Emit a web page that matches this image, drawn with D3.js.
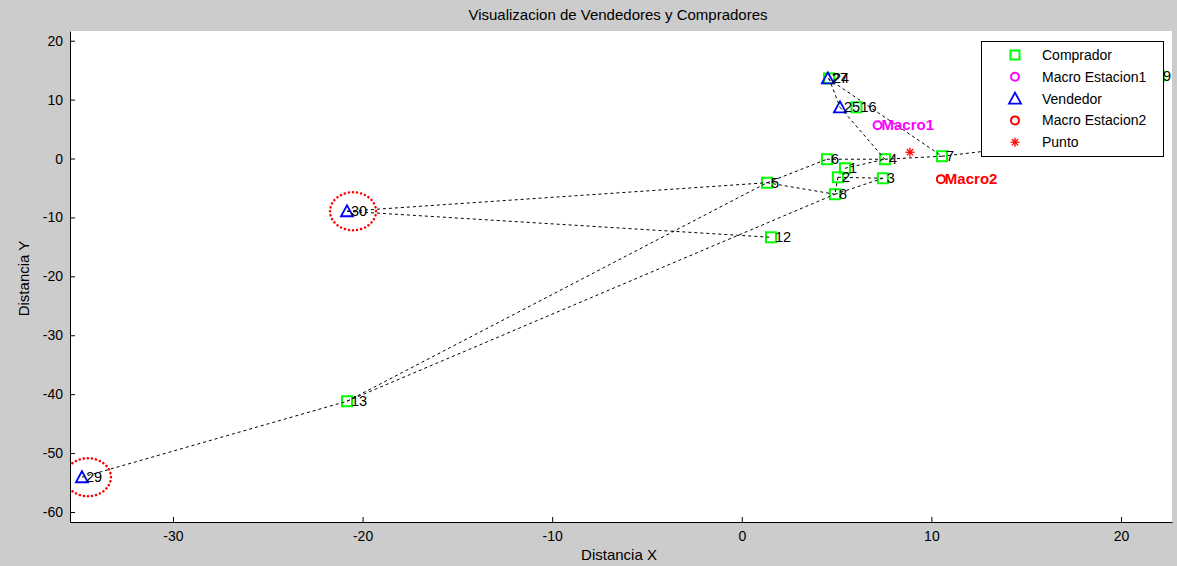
<!DOCTYPE html>
<html><head><meta charset="utf-8">
<script src="https://cdn.jsdelivr.net/npm/d3@7"></script>
<style>
html,body{margin:0;padding:0;background:#cccccc;}
svg{display:block;font-family:Arial,"Liberation Sans",sans-serif;}
</style></head>
<body>
<script>
// ---- data ----
const compradorIds = ["1","2","3","4","5","6","7","8","12","13","16","24","9"];
const compradorX   = [5.44,5.07,7.44,7.55,1.33,4.49,10.56,4.91,1.54,-20.82,6.05,4.60,22.0];
const compradorY   = [-1.65,-3.18,-3.35,-0.12,-4.11,-0.12,0.39,-6.06,-13.37,-41.2,8.7,13.6,14.0];
const vendedorIds  = ["25","27","29","30","10"];
const vendedorX    = [5.18,4.54,-34.8,-20.82,20.4];
const vendedorY    = [8.7,13.6,-54.1,-8.95,4.1];
const macro1 = {x:7.16, y:5.66, label:"Macro1"};
const macro2 = {x:10.5, y:-3.5, label:"Macro2"};
const punto  = {x:8.87, y:1.07};
const links = [["V29","C13"],["C13","C5"],["C13","C8"],["V30","C5"],["V30","C12"],
  ["C5","C6"],["C5","C8"],["C6","C4"],["C1","C4"],["C2","C3"],["C8","C3"],["C2","C8"],
  ["C4","C7"],["V25","C4"],["V27","C7"],["C24","V25"],["C7","V10"]];
const highlighted = ["V30","V29"];
const xTicks = [-30,-20,-10,0,10,20];
const yTicks = [-60,-50,-40,-30,-20,-10,0,10,20];
const legendItems = ["Comprador","Macro Estacion1","Vendedor","Macro Estacion2","Punto"];
const title = "Visualizacion de Vendedores y Compradores";

// ---- layout ----
const W=1177,H=566;
const L=70,R=1172,T=31,B=522;
const x=d3.scaleLinear().domain([-35.43,22.69]).range([L,R]);
const y=d3.scaleLinear().domain([-61.7,21.65]).range([B,T]);

const svg=d3.select("body").append("svg").attr("width",W).attr("height",H);
svg.append("rect").attr("width",W).attr("height",H).attr("fill","#cccccc");
svg.append("rect").attr("x",L).attr("y",T).attr("width",R-L).attr("height",B-T).attr("fill","#fff");

const compradores=compradorIds.map((id,i)=>({key:"C"+id,id,x:compradorX[i],y:compradorY[i]}));
const vendedores=vendedorIds.map((id,i)=>({key:"V"+id,id,x:vendedorX[i],y:vendedorY[i]}));
const byKey={};compradores.concat(vendedores).forEach(d=>byKey[d.key]=d);

const plot=svg.append("g");
plot.append("clipPath").attr("id","clip").append("rect").attr("x",L).attr("y",T).attr("width",R-L).attr("height",B-T);
const g=plot.append("g").attr("clip-path","url(#clip)");

// markers
g.selectAll(".sq").data(compradores).join("rect")
 .attr("x",d=>x(d.x)-5).attr("y",d=>y(d.y)-5).attr("width",10).attr("height",10)
 .attr("fill","none").attr("stroke","#00ff00").attr("stroke-width",2);
g.selectAll(".tri").data(vendedores).join("path")
 .attr("d",d=>{const cx=x(d.x),cy=y(d.y);return `M${cx-6},${cy+5}L${cx},${cy-6}L${cx+6},${cy+5}Z`;})
 .attr("fill","none").attr("stroke","#0000ff").attr("stroke-width",1.8);
[[macro1,"#ff00ff"],[macro2,"#ff0000"]].forEach(([m,c])=>{
  g.append("circle").attr("cx",x(m.x)).attr("cy",y(m.y)).attr("r",4).attr("fill","none").attr("stroke",c).attr("stroke-width",2);
});
function asterisk(sel,cx,cy,s,c){
  const a=sel.append("g").attr("stroke",c).attr("stroke-width",1.3);
  a.append("line").attr("x1",cx-s).attr("x2",cx+s).attr("y1",cy).attr("y2",cy);
  a.append("line").attr("x1",cx).attr("x2",cx).attr("y1",cy-s).attr("y2",cy+s);
  const k=s*0.7;
  a.append("line").attr("x1",cx-k).attr("x2",cx+k).attr("y1",cy-k).attr("y2",cy+k);
  a.append("line").attr("x1",cx-k).attr("x2",cx+k).attr("y1",cy+k).attr("y2",cy-k);
}
asterisk(g,x(punto.x),y(punto.y),4.5,"#ff0000");

// links
g.selectAll(".lk").data(links).join("line")
 .attr("x1",d=>x(byKey[d[0]].x)).attr("y1",d=>y(byKey[d[0]].y))
 .attr("x2",d=>x(byKey[d[1]].x)).attr("y2",d=>y(byKey[d[1]].y))
 .attr("stroke","#000").attr("stroke-width",1).attr("stroke-dasharray","3,3");

// labels
g.selectAll(".lb").data(compradores.concat(vendedores)).join("text")
 .attr("x",d=>x(d.x)+4).attr("y",d=>y(d.y)+5).attr("font-size",14.5).attr("fill","#000").text(d=>d.id);
[[macro1,"#ff00ff"],[macro2,"#ff0000"]].forEach(([m,c])=>{
  g.append("text").attr("x",x(m.x)+4).attr("y",y(m.y)+5).attr("font-size",15).attr("font-weight","bold").attr("fill",c).text(m.label);
});

// highlight ellipses
g.selectAll(".hl").data(highlighted.map(k=>byKey[k])).join("ellipse")
 .attr("cx",d=>x(d.x)+6).attr("cy",d=>y(d.y)).attr("rx",23).attr("ry",19)
 .attr("fill","none").attr("stroke","#ff0000").attr("stroke-width",2.5)
 .attr("stroke-dasharray","0.1,4").attr("stroke-linecap","round");

// axes
const ax=svg.append("g").attr("transform",`translate(0,${B})`)
 .call(d3.axisBottom(x).tickValues(xTicks).tickSize(-5).tickSizeOuter(0).tickPadding(9).tickFormat(d3.format("d")));
const ay=svg.append("g").attr("transform",`translate(${L},0)`)
 .call(d3.axisLeft(y).tickValues(yTicks).tickSize(-5).tickSizeOuter(0).tickPadding(7).tickFormat(d3.format("d")));
[ax,ay].forEach(a=>{a.selectAll("text").attr("font-size",14).attr("fill","#000").attr("font-family","Arial,'Liberation Sans',sans-serif");
 a.select(".domain").attr("stroke","#000");a.selectAll(".tick line").attr("stroke","#000");});
ax.selectAll("text").text(d=>d<0?"-"+Math.abs(d):d);
ay.selectAll("text").text(d=>d<0?"-"+Math.abs(d):d);

svg.append("text").attr("x",(L+R)/2-3).attr("y",20).attr("text-anchor","middle").attr("font-size",15).text(title);
svg.append("text").attr("x",(L+R)/2-2).attr("y",560).attr("text-anchor","middle").attr("font-size",15).text("Distancia X");
svg.append("text").attr("transform",`translate(29,${(T+B)/2+2}) rotate(-90)`).attr("text-anchor","middle").attr("font-size",15).text("Distancia Y");

// legend
const lg=svg.append("g");
lg.append("rect").attr("x",981.5).attr("y",41.5).attr("width",182).attr("height",115).attr("fill","#fff").attr("stroke","#000");
legendItems.forEach((t,i)=>{
  const cy=55+i*21.8, mx=1015;
  lg.append("text").attr("x",1042).attr("y",cy+5).attr("font-size",14).attr("fill","#000").text(t);
  if(i===0) lg.append("rect").attr("x",mx-4.5).attr("y",cy-4.5).attr("width",9).attr("height",9).attr("fill","none").attr("stroke","#00ff00").attr("stroke-width",2);
  if(i===1) lg.append("circle").attr("cx",mx).attr("cy",cy).attr("r",4).attr("fill","none").attr("stroke","#ff00ff").attr("stroke-width",2);
  if(i===2) lg.append("path").attr("d",`M${mx-6},${cy+5}L${mx},${cy-6}L${mx+6},${cy+5}Z`).attr("fill","none").attr("stroke","#0000ff").attr("stroke-width",1.8);
  if(i===3) lg.append("circle").attr("cx",mx).attr("cy",cy).attr("r",4).attr("fill","none").attr("stroke","#ff0000").attr("stroke-width",2);
  if(i===4) asterisk(lg,mx,cy,4.5,"#ff0000");
});
</script>
</body></html>
